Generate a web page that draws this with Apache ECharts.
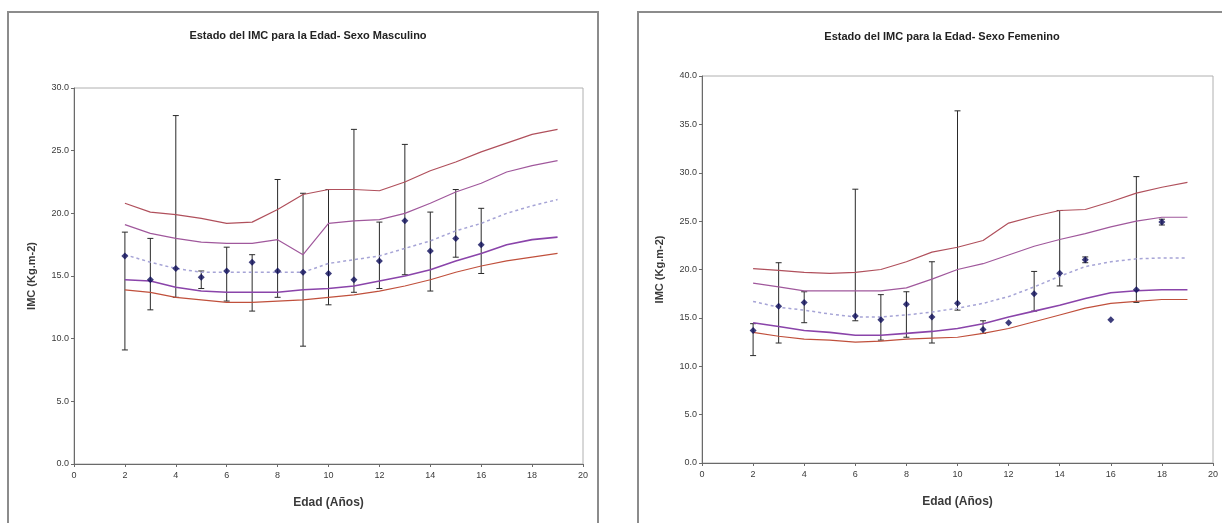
<!DOCTYPE html>
<html lang="es">
<head>
<meta charset="UTF-8">
<script src="https://cdn.jsdelivr.net/npm/echarts@6/dist/echarts.min.js"></script>
<title>Estado del IMC para la Edad</title>
<style>
  html, body { margin: 0; padding: 0; background: #fff; }
  #main { width: 1222px; height: 523px; }
</style>
</head>
<body>
<div id="main"></div>
<script type="text/javascript">
// edades de las curvas de referencia
var refAges = [2, 3, 4, 5, 6, 7, 8, 9, 10, 11, 12, 13, 14, 15, 16, 17, 18, 19];

// Sexo Masculino - curvas de referencia
var mP97 = [20.8, 20.1, 19.9, 19.6, 19.2, 19.3, 20.3, 21.5, 21.9, 21.9, 21.8, 22.5, 23.4, 24.1, 24.9, 25.6, 26.3, 26.7];
var mP85 = [19.1, 18.4, 18.0, 17.7, 17.6, 17.6, 17.9, 16.7, 19.2, 19.4, 19.5, 20.0, 20.8, 21.7, 22.4, 23.3, 23.8, 24.2];
var mP50 = [16.7, 16.1, 15.6, 15.3, 15.3, 15.3, 15.3, 15.3, 16.0, 16.3, 16.6, 17.2, 17.8, 18.6, 19.2, 20.0, 20.6, 21.1];
var mP15 = [14.7, 14.6, 14.1, 13.8, 13.7, 13.7, 13.7, 13.9, 14.0, 14.2, 14.6, 15.0, 15.5, 16.2, 16.8, 17.5, 17.9, 18.1];
var mP3  = [13.9, 13.7, 13.3, 13.1, 12.9, 12.9, 13.0, 13.1, 13.3, 13.5, 13.8, 14.2, 14.7, 15.3, 15.8, 16.2, 16.5, 16.8];

// Sexo Masculino - muestra
var mAges = [2, 3, 4, 5, 6, 7, 8, 9, 10, 11, 12, 13, 14, 15, 16];
var mMean = [16.6, 14.7, 15.6, 14.9, 15.4, 16.1, 15.4, 15.3, 15.2, 14.7, 16.2, 19.4, 17.0, 18.0, 17.5];
var mLow  = [9.1, 12.3, 13.3, 14.0, 13.0, 12.2, 13.3, 9.4, 12.7, 13.7, 14.0, 15.1, 13.8, 16.5, 15.2];
var mHigh = [18.5, 18.0, 27.8, 15.4, 17.3, 16.7, 22.7, 21.6, 21.9, 26.7, 19.3, 25.5, 20.1, 21.9, 20.4];

// Sexo Femenino - curvas de referencia
var fP97 = [20.1, 19.9, 19.7, 19.6, 19.7, 20.0, 20.8, 21.8, 22.3, 23.0, 24.8, 25.5, 26.1, 26.2, 27.0, 27.9, 28.5, 29.0];
var fP85 = [18.6, 18.2, 17.8, 17.8, 17.8, 17.8, 18.1, 19.0, 20.0, 20.6, 21.5, 22.4, 23.1, 23.7, 24.4, 25.0, 25.4, 25.4];
var fP50 = [16.7, 16.1, 15.8, 15.4, 15.1, 15.1, 15.3, 15.6, 16.0, 16.5, 17.2, 18.2, 19.3, 20.3, 20.8, 21.1, 21.2, 21.2];
var fP15 = [14.5, 14.1, 13.7, 13.5, 13.2, 13.2, 13.4, 13.6, 13.9, 14.4, 15.1, 15.7, 16.3, 17.0, 17.6, 17.8, 17.9, 17.9];
var fP3  = [13.5, 13.1, 12.8, 12.7, 12.5, 12.6, 12.8, 12.9, 13.0, 13.4, 13.9, 14.6, 15.3, 16.0, 16.5, 16.7, 16.9, 16.9];

// Sexo Femenino - muestra
var fAges = [2, 3, 4, 6, 7, 8, 9, 10, 11, 12, 13, 14, 15, 16, 17, 18];
var fMean = [13.7, 16.2, 16.6, 15.2, 14.8, 16.4, 15.1, 16.5, 13.8, 14.5, 17.5, 19.6, 21.0, 14.8, 17.9, 24.9];
var fLow  = [11.1, 12.4, 14.5, 14.7, 12.7, 13.0, 12.4, 15.8, 13.4, null, 15.7, 18.3, 20.7, null, 16.6, 24.6];
var fHigh = [14.4, 20.7, 17.7, 28.3, 17.4, 17.7, 20.8, 36.4, 14.7, null, 19.8, 26.1, 21.3, null, 29.6, 25.2];

var txt = '#3a3a3a';
var font = 'Liberation Sans';

function pairs(xs, ys) {
    return xs.map(function (x, i) { return [x, ys[i]]; });
}
function bars(xs, lo, hi) {
    var out = [];
    xs.forEach(function (x, i) {
        if (lo[i] != null && hi[i] != null) out.push([x, lo[i], hi[i]]);
    });
    return out;
}

function renderBar(params, api) {
    var a = api.coord([api.value(0), api.value(2)]);
    var b = api.coord([api.value(0), api.value(1)]);
    var st = { stroke: '#2a2a2a', lineWidth: 1 };
    return {
        type: 'group',
        children: [
            { type: 'line', shape: { x1: a[0], y1: a[1], x2: b[0], y2: b[1] }, style: st },
            { type: 'line', shape: { x1: a[0] - 3, y1: a[1], x2: a[0] + 3, y2: a[1] }, style: st },
            { type: 'line', shape: { x1: b[0] - 3, y1: b[1], x2: b[0] + 3, y2: b[1] }, style: st }
        ]
    };
}

function refLines(idx, p97, p85, p50, p15, p3) {
    function ln(d, color, w, type) {
        return {
            type: 'line', xAxisIndex: idx, yAxisIndex: idx,
            data: pairs(refAges, d), symbol: 'none', silent: true,
            lineStyle: { color: color, width: w, type: type || 'solid' }
        };
    }
    return [
        ln(p97, '#b0505c', 1.2),
        ln(p85, '#a0589c', 1.2),
        ln(p50, '#a6a4d6', 1.5, [3, 3]),
        ln(p15, '#8a44aa', 1.6),
        ln(p3, '#c0503c', 1.2)
    ];
}

function xAx(idx) {
    return {
        type: 'value', gridIndex: idx, min: 0, max: 20, interval: 2,
        name: 'Edad (Años)', nameLocation: 'middle', nameGap: 33,
        nameTextStyle: { fontFamily: font, fontSize: 12, fontWeight: 'bold', color: txt },
        axisLine: { lineStyle: { color: '#6a6a6a', width: 1 } },
        axisTick: { length: 3, lineStyle: { color: '#6a6a6a' } },
        axisLabel: { fontFamily: font, fontSize: 9, color: txt, margin: 7 },
        splitLine: { show: false }
    };
}
function yAx(idx, max) {
    return {
        type: 'value', gridIndex: idx, min: 0, max: max, interval: 5,
        name: 'IMC (Kg.m-2)', nameLocation: 'middle', nameGap: 37, nameRotate: 90,
        nameTextStyle: { fontFamily: font, fontSize: 11, fontWeight: 'bold', color: txt },
        axisLine: { show: true, lineStyle: { color: '#6a6a6a', width: 1 } },
        axisTick: { show: true, length: 3, lineStyle: { color: '#6a6a6a' } },
        axisLabel: {
            fontFamily: font, fontSize: 9, color: txt, margin: 5,
            formatter: function (v) { return v.toFixed(1); }
        },
        splitLine: { show: false }
    };
}

var myChart = echarts.init(document.getElementById('main'));

var option = {
    backgroundColor: '#fff',
    animation: false,
    title: [
        {
            text: 'Estado del IMC para la Edad- Sexo Masculino', left: 303, top: 25, textAlign: 'center',
            textStyle: { fontFamily: font, fontSize: 11, fontWeight: 'bold', color: '#222' }
        },
        {
            text: 'Estado del IMC para la Edad- Sexo Femenino', left: 937, top: 26, textAlign: 'center',
            textStyle: { fontFamily: font, fontSize: 11, fontWeight: 'bold', color: '#222' }
        }
    ],
    graphic: [
        { type: 'rect', shape: { x: 8, y: 12, width: 590, height: 520 }, style: { fill: null, stroke: '#8c8c8c', lineWidth: 2 } },
        { type: 'rect', shape: { x: 638, y: 12, width: 600, height: 520 }, style: { fill: null, stroke: '#8c8c8c', lineWidth: 2 } }
    ],
    grid: [
        { left: 74, top: 88, width: 509, height: 376, show: true, borderColor: '#b0b0b0', borderWidth: 1 },
        { left: 702, top: 76, width: 511, height: 387, show: true, borderColor: '#b0b0b0', borderWidth: 1 }
    ],
    xAxis: [xAx(0), xAx(1)],
    yAxis: [yAx(0, 30), yAx(1, 40)],
    series: [].concat(
        refLines(0, mP97, mP85, mP50, mP15, mP3),
        refLines(1, fP97, fP85, fP50, fP15, fP3),
        [
            {
                type: 'custom', xAxisIndex: 0, yAxisIndex: 0, renderItem: renderBar,
                encode: { x: 0, y: [1, 2] }, data: bars(mAges, mLow, mHigh), silent: true
            },
            {
                type: 'custom', xAxisIndex: 1, yAxisIndex: 1, renderItem: renderBar,
                encode: { x: 0, y: [1, 2] }, data: bars(fAges, fLow, fHigh), silent: true
            },
            {
                type: 'scatter', xAxisIndex: 0, yAxisIndex: 0, symbol: 'diamond', symbolSize: 7,
                itemStyle: { color: '#0c0c5a' }, data: pairs(mAges, mMean), z: 5
            },
            {
                type: 'scatter', xAxisIndex: 1, yAxisIndex: 1, symbol: 'diamond', symbolSize: 7,
                itemStyle: { color: '#0c0c5a' }, data: pairs(fAges, fMean), z: 5
            }
        ]
    )
};

myChart.setOption(option);
</script>
</body>
</html>
